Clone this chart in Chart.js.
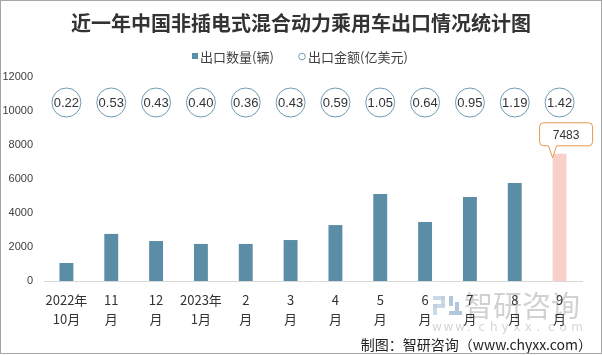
<!DOCTYPE html>
<html>
<head>
<meta charset="utf-8">
<script src="https://cdn.jsdelivr.net/npm/chart.js@4/dist/chart.umd.min.js"></script>
<style>
html,body{margin:0;padding:0;background:#fff;}
#wrap{width:602px;height:355px;position:relative;}
</style>
</head>
<body>
<div id="wrap"><canvas id="c" width="602" height="355"></canvas></div>
<script>
const titleText = '近一年中国非插电式混合动力乘用车出口情况统计图';
const categories = [['2022年','10月'],['11','月'],['12','月'],['2023年','1月'],['2','月'],['3','月'],['4','月'],['5','月'],['6','月'],['7','月'],['8','月'],['9','月']];
const exportQty = [1060, 2770, 2350, 2180, 2180, 2410, 3290, 5120, 3470, 4940, 5760, 7483];
const exportAmount = [0.22, 0.53, 0.43, 0.40, 0.36, 0.43, 0.59, 1.05, 0.64, 0.95, 1.19, 1.42];
const qtyLabel = '出口数量(辆)';
const amountLabel = '出口金额(亿美元)';
const amountRowLevel = 10500;
const yTicks = [0, 2000, 4000, 6000, 8000, 10000, 12000];
const sourceText = '制图：智研咨询（www.chyxx.com）';

const BLUE = '#5b8ea6';
const PINK = '#f8d0c7';
const CJK = '"Noto Sans CJK SC", "Noto Sans", sans-serif';

const decor = {
  id: 'decor',
  beforeDraw(chart) {
    const ctx = chart.ctx;
    ctx.save();
    // watermark
    ctx.fillStyle = 'rgba(190,208,225,0.8)';
    ctx.fillRect(433, 296, 12, 4);
    ctx.fillRect(441, 296, 4, 10);
    ctx.fillRect(433, 304, 12, 4);
    ctx.fillRect(433, 304, 4, 11);
    ctx.fillStyle = 'rgba(160,185,210,0.8)';
    ctx.fillRect(449, 296, 4, 10);
    ctx.fillRect(449, 311, 13, 4);
    ctx.fillRect(455, 302, 4, 9);
    ctx.fillStyle = 'rgba(140,140,140,0.4)';
    ctx.font = '29px ' + CJK;
    ctx.textBaseline = 'middle';
    ctx.textAlign = 'left';
    ctx.fillText('智研咨询', 464, 306);
    ctx.font = '12px "DejaVu Sans", sans-serif';
    ctx.fillStyle = 'rgba(150,150,150,0.4)';
    const w = 'www.chyxx.com'.split('');
    w.forEach((ch, i) => ctx.fillText(ch, 432 + i * 11.6, 328));
    ctx.restore();
  },
  afterDatasetsDraw(chart) {
    const ctx = chart.ctx;
    ctx.save();
    // circle labels
    const pm = chart.getDatasetMeta(1);
    ctx.fillStyle = '#333';
    ctx.font = '13px "Liberation Sans Narrow", "Liberation Sans", sans-serif';
    ctx.textAlign = 'center';
    ctx.textBaseline = 'middle';
    pm.data.forEach((pt, i) => {
      ctx.fillText(exportAmount[i].toFixed(2), pt.x, pt.y + 1);
    });
    // callout for last bar
    const bm = chart.getDatasetMeta(0);
    const last = bm.data[bm.data.length - 1];
    const bx = last.x, by = last.y;
    const L = bx - 20, R = bx + 33, T = by - 31, B = by - 8, r = 4;
    ctx.beginPath();
    ctx.moveTo(L + r, T);
    ctx.lineTo(R - r, T);
    ctx.arcTo(R, T, R, T + r, r);
    ctx.lineTo(R, B - r);
    ctx.arcTo(R, B, R - r, B, r);
    ctx.lineTo(bx - 3, B);
    ctx.lineTo(bx - 7, by + 4);
    ctx.lineTo(bx - 11, B);
    ctx.lineTo(L + r, B);
    ctx.arcTo(L, B, L, B - r, r);
    ctx.lineTo(L, T + r);
    ctx.arcTo(L, T, L + r, T, r);
    ctx.closePath();
    ctx.fillStyle = '#fff';
    ctx.fill();
    ctx.strokeStyle = '#e49a4c';
    ctx.lineWidth = 1;
    ctx.stroke();
    ctx.fillStyle = '#333';
    ctx.font = '12px "Liberation Sans", sans-serif';
    ctx.fillText(String(exportQty[exportQty.length - 1]), (L + R) / 2, (T + B) / 2 + 1);
    ctx.restore();
  },
  afterDraw(chart) {
    const ctx = chart.ctx;
    ctx.save();
    // title
    ctx.fillStyle = '#333';
    ctx.font = 'bold 20px ' + CJK;
    ctx.textAlign = 'center';
    ctx.textBaseline = 'middle';
    ctx.fillText(titleText, 301, 23);
    // legend
    ctx.font = '13px ' + CJK;
    ctx.textAlign = 'left';
    ctx.fillStyle = BLUE;
    ctx.fillRect(192, 53, 6, 6);
    ctx.fillStyle = '#404040';
    ctx.fillText(qtyLabel, 200, 57);
    ctx.beginPath();
    ctx.arc(302, 56.5, 3.3, 0, Math.PI * 2);
    ctx.strokeStyle = '#6d9bb1';
    ctx.lineWidth = 1;
    ctx.stroke();
    ctx.fillStyle = '#404040';
    ctx.fillText(amountLabel, 308, 57);
    // source
    ctx.font = '14px ' + CJK;
    ctx.textAlign = 'right';
    ctx.fillStyle = '#222';
    ctx.fillText(sourceText, 592, 345);
    // frame
    ctx.strokeStyle = '#a6a6a6';
    ctx.lineWidth = 1;
    ctx.strokeRect(0.5, 0.5, 601, 353);
    ctx.restore();
  }
};

new Chart(document.getElementById('c'), {
  data: {
    labels: categories,
    datasets: [
      {
        type: 'bar',
        label: qtyLabel,
        data: exportQty,
        backgroundColor: exportQty.map((v, i) => i === exportQty.length - 1 ? PINK : BLUE),
        barPercentage: 0.31,
        categoryPercentage: 1,
        order: 2
      },
      {
        type: 'line',
        label: amountLabel,
        data: exportAmount.map(() => amountRowLevel),
        showLine: false,
        pointRadius: 14.5,
        pointHoverRadius: 14.5,
        pointBackgroundColor: '#fff',
        pointBorderColor: '#6d9bb1',
        pointBorderWidth: 1,
        order: 1
      }
    ]
  },
  options: {
    responsive: false,
    animation: false,
    events: [],
    layout: { padding: { top: 77, right: 20, left: 0, bottom: 0 } },
    plugins: { legend: { display: false }, title: { display: false }, tooltip: { enabled: false } },
    scales: {
      x: {
        grid: { display: false, drawTicks: false },
        border: { display: true, color: '#d9d9d9', width: 1 },
        ticks: {
          color: '#333',
          padding: 10,
          maxRotation: 0,
          autoSkip: false,
          font: { family: CJK, size: 13, lineHeight: 1.46 }
        },
        afterFit(s) { s.height = 74; }
      },
      y: {
        min: 0, max: 12000,
        afterBuildTicks(s) { s.ticks = yTicks.map(v => ({ value: v })); },
        grid: { display: false, drawTicks: false },
        border: { display: false },
        ticks: {
          color: '#404040',
          padding: 11,
          callback: (v) => String(v),
          font: { family: '"Liberation Sans", sans-serif', size: 11 }
        },
        afterFit(s) { s.width = 44; }
      }
    }
  },
  plugins: [decor]
});
</script>
</body>
</html>
